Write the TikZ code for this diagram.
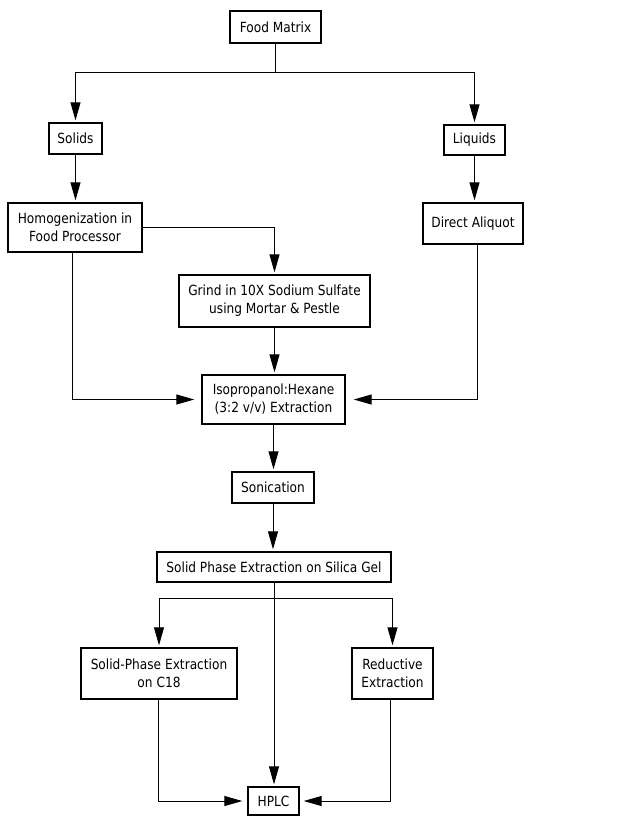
\documentclass[tikz,border=0pt]{standalone}
\usepackage{fontspec}
\setmainfont[FakeStretch=0.87]{DejaVu Sans}
\usetikzlibrary{arrows.meta}
\begin{document}
\begin{tikzpicture}[x=1pt,y=-1pt,
  box/.style={draw,line width=1.4pt,inner sep=0pt,align=center,
    font=\fontsize{14pt}{18pt}\selectfont},
  conn/.style={line width=1pt},
  arr/.style={conn,-{Triangle[length=18pt,width=10pt]},shorten >=2pt}]
\useasboundingbox (0,0) rectangle (632,817);
\node[box,minimum width=91pt,minimum height=32pt] (fm) at (275.5,27) {Food Matrix};
\node[box,minimum width=53pt,minimum height=31pt] (sol) at (75.5,138.5) {Solids};
\node[box,minimum width=61pt,minimum height=30pt] (liq) at (474.5,140) {Liquids};
\node[box,minimum width=134pt,minimum height=49pt] (hom) at (75,227.5) {Homogenization in\\Food Processor};
\node[box,minimum width=100pt,minimum height=41pt] (da) at (473,223.5) {Direct Aliquot};
\node[box,minimum width=191pt,minimum height=52pt] (gr) at (274.5,301) {Grind in 10X Sodium Sulfate\\using Mortar \& Pestle};
\node[box,minimum width=143pt,minimum height=49pt] (iso) at (273.5,399.5) {Isopropanol:Hexane\\(3:2 v/v) Extraction};
\node[box,minimum width=82pt,minimum height=31pt] (son) at (273,487.5) {Sonication};
\node[box,minimum width=234pt,minimum height=30pt] (spe) at (274,567) {Solid Phase Extraction on Silica Gel};
\node[box,minimum width=156pt,minimum height=51pt] (c18) at (159,673.5) {Solid-Phase Extraction\\on C18};
\node[box,minimum width=81pt,minimum height=51pt] (red) at (392.5,673.5) {Reductive\\Extraction};
\node[box,minimum width=51pt,minimum height=28pt] (hplc) at (273.5,801) {HPLC};
% connectors
\coordinate (b1) at (275.5,72);
\draw[conn] (fm.south) -- (b1);
\draw[arr] (b1) -| (sol.north);
\draw[arr] (b1) -| (liq.north);
\draw[arr] (sol.south) -- (sol.south |- hom.north);
\draw[arr] (liq.south) -- (liq.south |- da.north);
\draw[arr] (hom.east) -| (gr.north);
\coordinate (hs) at (72,252);
\draw[arr,shorten >=7pt] (hs) |- (iso.west);
\coordinate (ds) at (477,244);
\draw[arr,shorten >=8pt] (ds) |- (iso.east);
\draw[arr] (gr.south) -- (gr.south |- iso.north);
\draw[arr] (iso.south) -- (iso.south |- son.north);
\draw[arr] (son.south) -- (son.south |- spe.north);
\coordinate (b2) at (274,598);
\draw[conn] (spe.south) -- (b2);
\draw[arr] (b2) -| (c18.north);
\draw[arr] (b2) -| (red.north);
\draw[arr] (b2) -- (b2 |- hplc.north);
\coordinate (cs) at (158,699);
\draw[arr,shorten >=5pt] (cs) |- (hplc.west);
\coordinate (rs) at (390,699);
\draw[arr,shorten >=4pt] (rs) |- (hplc.east);
\end{tikzpicture}
\end{document}
